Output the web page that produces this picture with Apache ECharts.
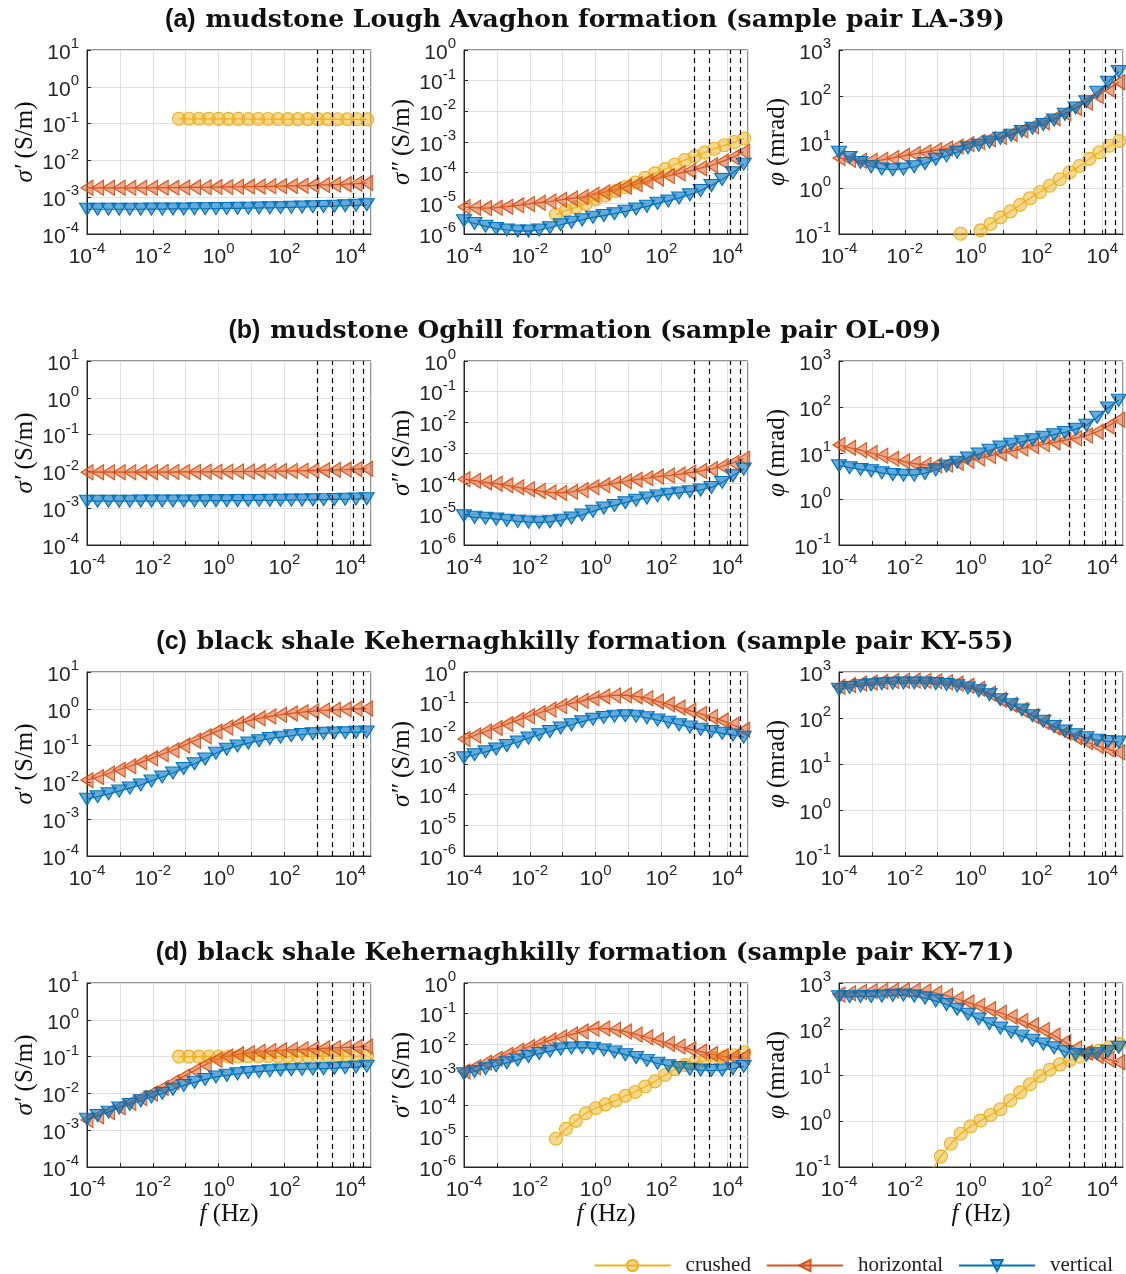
<!DOCTYPE html>
<html>
<head>
<meta charset="utf-8">
<script src="https://cdn.jsdelivr.net/npm/echarts@6/dist/echarts.min.js"></script>
<style>
  html, body { margin: 0; padding: 0; background: #fff; }
  #chart { width: 1126px; height: 1274px; }
</style>
</head>
<body>
<div id="chart"></div>
<script>
// measurement frequencies (Hz)
const freq = [1e-4, 2.1e-4, 4.5e-4, 9.5e-4, 2.0e-3, 4.3e-3, 9.1e-3, 0.0193, 0.041, 0.087, 0.185, 0.39, 0.83,
  1.77, 3.75, 8.0, 17, 36, 76, 162, 343, 730, 1550, 3300, 7000, 14900, 31600];
const freqCrushed = [0.0625, 0.125, 0.25, 0.5, 1, 2, 4, 8, 16, 32, 64, 128, 256, 512, 1024, 2048, 4096, 8192, 16384, 32768];
const dashedFreq = [1000, 2800, 12000, 25000];

// (a) LA-39
const laReCru = [0.135, 0.135, 0.135, 0.135, 0.134, 0.134, 0.134, 0.133, 0.133, 0.133, 0.133, 0.132, 0.132, 0.132, 0.132, 0.132, 0.131, 0.131, 0.131, 0.13];
const laReHor = [1.8e-3, 1.8e-3, 1.8e-3, 1.8e-3, 1.8e-3, 1.8e-3, 1.8e-3, 1.82e-3, 1.82e-3, 1.84e-3, 1.85e-3, 1.86e-3, 1.88e-3, 1.9e-3,
  1.92e-3, 1.94e-3, 1.96e-3, 1.98e-3, 2.0e-3, 2.03e-3, 2.06e-3, 2.1e-3, 2.15e-3, 2.2e-3, 2.26e-3, 2.33e-3, 2.42e-3];
const laReVer = [4.7e-4, 4.7e-4, 4.7e-4, 4.7e-4, 4.7e-4, 4.7e-4, 4.75e-4, 4.75e-4, 4.8e-4, 4.8e-4, 4.85e-4, 4.85e-4, 4.9e-4, 4.95e-4,
  5.0e-4, 5.05e-4, 5.1e-4, 5.15e-4, 5.2e-4, 5.3e-4, 5.4e-4, 5.5e-4, 5.6e-4, 5.7e-4, 5.85e-4, 6.0e-4, 6.2e-4];
const laImCru = [4.3e-6, 5.9e-6, 7.4e-6, 9.6e-6, 1.35e-5, 1.8e-5, 2.5e-5, 3.4e-5, 4.8e-5, 6.8e-5, 9.5e-5, 1.3e-4, 1.85e-4, 2.6e-4,
  3.4e-4, 4.5e-4, 6e-4, 7.8e-4, 1.0e-3, 1.3e-3];
const laImHor = [7.6e-6, 7.2e-6, 7.0e-6, 7.2e-6, 7.8e-6, 8.6e-6, 9.5e-6, 1.05e-5, 1.15e-5, 1.3e-5, 1.45e-5, 1.6e-5, 1.9e-5, 2.3e-5,
  2.8e-5, 3.5e-5, 4.2e-5, 5.2e-5, 6.5e-5, 7.8e-5, 9.5e-5, 1.15e-4, 1.4e-4, 1.75e-4, 2.3e-4, 3.2e-4, 4.8e-4];
const laImVer = [2.7e-6, 2.2e-6, 1.8e-6, 1.5e-6, 1.35e-6, 1.25e-6, 1.25e-6, 1.35e-6, 1.6e-6, 2.0e-6, 2.4e-6, 2.9e-6, 3.5e-6, 4.0e-6,
  4.6e-6, 5.5e-6, 6.5e-6, 8e-6, 1.0e-5, 1.2e-5, 1.5e-5, 1.9e-5, 2.6e-5, 3.8e-5, 6e-5, 1.0e-4, 1.9e-4];
const laPhCru = [0.035, 0.05, 0.07, 0.101, null, 0.12, 0.165, 0.23, 0.31, 0.43, 0.6, 0.82, 1.12, 1.55, 2.2, 3.0, 4.3, 6.0, 8.3, 10.5];
const laPhHor = [4.5, 4.1, 3.9, 3.9, 4.1, 4.5, 5.0, 5.5, 6.0, 6.6, 7.2, 8.0, 9.0, 10, 11.5, 13, 15, 18, 22, 27, 33, 42, 55, 72, 100, 140, 200];
const laPhVer = [6.0, 4.6, 3.6, 2.9, 2.6, 2.5, 2.6, 2.9, 3.4, 4.2, 5.0, 6.0, 7.5, 8.5, 10, 12, 14, 17, 20, 24, 30, 40, 55, 75, 120, 200, 340];

// (b) OL-09
const olReHor = [9.5e-3, 9.5e-3, 9.5e-3, 9.5e-3, 9.5e-3, 9.55e-3, 9.55e-3, 9.6e-3, 9.6e-3, 9.65e-3, 9.7e-3, 9.75e-3, 9.8e-3, 9.85e-3,
  9.9e-3, 9.95e-3, 1.0e-2, 1.01e-2, 1.02e-2, 1.03e-2, 1.04e-2, 1.06e-2, 1.08e-2, 1.1e-2, 1.12e-2, 1.15e-2, 1.18e-2];
const olReVer = [1.55e-3, 1.55e-3, 1.55e-3, 1.55e-3, 1.55e-3, 1.56e-3, 1.56e-3, 1.57e-3, 1.57e-3, 1.58e-3, 1.58e-3, 1.59e-3, 1.6e-3,
  1.6e-3, 1.61e-3, 1.62e-3, 1.63e-3, 1.64e-3, 1.65e-3, 1.66e-3, 1.67e-3, 1.69e-3, 1.71e-3, 1.73e-3, 1.75e-3, 1.78e-3, 1.8e-3];
const olImHor = [1.4e-4, 1.25e-4, 1.1e-4, 1.0e-4, 8.8e-5, 7.6e-5, 6.6e-5, 5.8e-5, 5.2e-5, 5.0e-5, 5.4e-5, 6.2e-5, 7.6e-5, 8.8e-5,
  1.02e-4, 1.2e-4, 1.35e-4, 1.5e-4, 1.7e-4, 1.85e-4, 2.0e-4, 2.3e-4, 2.6e-4, 3.0e-4, 3.7e-4, 4.8e-4, 6.5e-4];
const olImVer = [9e-6, 8e-6, 7.5e-6, 7e-6, 6.4e-6, 5.9e-6, 5.6e-6, 5.5e-6, 5.7e-6, 6.4e-6, 7.6e-6, 9.5e-6, 1.25e-5, 1.6e-5,
  1.95e-5, 2.4e-5, 2.9e-5, 3.4e-5, 4.0e-5, 4.5e-5, 5.0e-5, 5.5e-5, 6.2e-5, 7.5e-5, 1.1e-4, 1.8e-4, 3.0e-4];
const olPhHor = [15, 13, 11.5, 10, 8.7, 7.5, 6.6, 5.9, 5.5, 5.4, 5.6, 6.1, 6.8, 7.6, 8.6, 9.8, 11, 12.5, 14, 15.5, 17, 19, 21, 24, 29, 38, 53];
const olPhVer = [5.3, 4.8, 4.4, 4.1, 3.7, 3.4, 3.3, 3.3, 3.6, 4.3, 5.2, 6.3, 7.8, 9.5, 11.5, 13.5, 15.5, 17.5, 19.5, 22, 25, 28, 33, 40, 60, 95, 140];

// (c) KY-55
const kyaReHor = [1.15e-2, 1.4e-2, 1.75e-2, 2.2e-2, 2.75e-2, 3.5e-2, 4.5e-2, 5.8e-2, 7.5e-2, 0.1, 0.135, 0.18, 0.24, 0.31, 0.39,
  0.47, 0.55, 0.62, 0.69, 0.75, 0.81, 0.86, 0.9, 0.94, 0.97, 1.0, 1.02];
const kyaReVer = [3.5e-3, 4.1e-3, 4.9e-3, 5.8e-3, 7e-3, 8.5e-3, 1.1e-2, 1.4e-2, 1.8e-2, 2.4e-2, 3.2e-2, 4.3e-2, 6.2e-2, 8e-2,
  9.8e-2, 0.117, 0.135, 0.155, 0.17, 0.185, 0.2, 0.21, 0.215, 0.22, 0.225, 0.23, 0.235];
const kyaImHor = [6.5e-3, 8.5e-3, 1.15e-2, 1.5e-2, 2.0e-2, 2.7e-2, 3.6e-2, 4.6e-2, 6.0e-2, 7.8e-2, 9.5e-2, 0.115, 0.14, 0.16, 0.172,
  0.175, 0.16, 0.14, 0.11, 0.088, 0.07, 0.055, 0.043, 0.034, 0.026, 0.019, 0.013];
const kyaImVer = [1.6e-3, 2e-3, 2.5e-3, 3.1e-3, 4e-3, 5.2e-3, 7e-3, 9e-3, 1.15e-2, 1.5e-2, 1.9e-2, 2.4e-2, 2.9e-2, 3.3e-2, 3.6e-2,
  3.75e-2, 3.6e-2, 3.2e-2, 2.7e-2, 2.3e-2, 1.9e-2, 1.6e-2, 1.35e-2, 1.15e-2, 1.0e-2, 8.8e-3, 7.5e-3];
const kyaPhHor = [480, 520, 560, 590, 615, 635, 645, 650, 645, 630, 600, 560, 500, 430, 340, 250, 195, 150, 110, 82, 62, 48, 38, 30, 25, 21, 18];
const kyaPhVer = [420, 460, 500, 530, 555, 570, 580, 580, 575, 560, 535, 500, 450, 390, 320, 250, 195, 150, 112, 85, 65, 52, 43, 37, 33, 31, 30];

// (d) KY-71
const kybReCru = [0.1, 0.1, 0.1, 0.101, 0.101, 0.101, 0.101, 0.102, 0.102, 0.102, 0.102, 0.102, 0.102, 0.102, 0.103, 0.103, 0.103, 0.103, 0.103, 0.104];
const kybReHor = [1.9e-3, 2.4e-3, 3.1e-3, 4.2e-3, 5.6e-3, 7.5e-3, 1.0e-2, 1.4e-2, 2.0e-2, 2.9e-2, 4.2e-2, 6e-2, 8.2e-2, 0.1, 0.115,
  0.125, 0.135, 0.142, 0.148, 0.153, 0.158, 0.163, 0.168, 0.172, 0.177, 0.182, 0.188];
const kybReVer = [2.0e-3, 2.5e-3, 3.1e-3, 4.0e-3, 5.0e-3, 6.3e-3, 8.0e-3, 1.0e-2, 1.3e-2, 1.65e-2, 2.0e-2, 2.4e-2, 2.8e-2, 3.1e-2,
  3.4e-2, 3.7e-2, 3.9e-2, 4.1e-2, 4.3e-2, 4.4e-2, 4.5e-2, 4.6e-2, 4.7e-2, 4.8e-2, 5.0e-2, 5.2e-2, 5.5e-2];
const kybImCru = [8.3e-6, 1.75e-5, 3.2e-5, 5.6e-5, 8.2e-5, 1.1e-4, 1.45e-4, 2.1e-4, 2.8e-4, 4.2e-4, 6.2e-4, 1.0e-3, 1.55e-3, 2.1e-3,
  2.6e-3, 2.9e-3, 3.5e-3, 3.9e-3, 4.4e-3, 5.4e-3];
const kybImHor = [1.3e-3, 1.8e-3, 2.5e-3, 3.4e-3, 4.6e-3, 6.2e-3, 8.2e-3, 1.05e-2, 1.35e-2, 1.7e-2, 2.1e-2, 2.6e-2, 3.2e-2, 3.3e-2,
  3.0e-2, 2.6e-2, 2.1e-2, 1.7e-2, 1.35e-2, 1.05e-2, 8.5e-3, 7e-3, 5.8e-3, 4.8e-3, 4.1e-3, 3.8e-3, 3.9e-3];
const kybImVer = [1.1e-3, 1.3e-3, 1.6e-3, 2.0e-3, 2.5e-3, 3.1e-3, 4.0e-3, 5.0e-3, 6.0e-3, 7.0e-3, 7.6e-3, 7.8e-3, 7.4e-3, 6.6e-3,
  5.6e-3, 4.6e-3, 3.7e-3, 3.0e-3, 2.4e-3, 2.0e-3, 1.75e-3, 1.55e-3, 1.45e-3, 1.4e-3, 1.45e-3, 1.6e-3, 1.9e-3];
const kybPhCru = [0.08, 0.17, 0.32, 0.53, 0.77, 1.02, 1.35, 1.8, 2.8, 4.2, 6.3, 9.5, 13, 17, 21, 25, 30, 34, 40, 47];
const kybPhHor = [560, 600, 640, 660, 680, 690, 700, 690, 660, 600, 530, 450, 380, 320, 270, 225, 185, 150, 120, 95, 72, 52, 38, 31, 26, 22, 19];
const kybPhVer = [500, 505, 510, 510, 520, 540, 550, 520, 470, 410, 340, 270, 210, 165, 130, 105, 85, 70, 57, 47, 39, 32, 28, 27, 29, 33, 40];

const titles = [
  ['(a)', 'mudstone Lough Avaghon formation (sample pair LA-39)'],
  ['(b)', 'mudstone Oghill formation (sample pair OL-09)'],
  ['(c)', 'black shale Kehernaghkilly formation (sample pair KY-55)'],
  ['(d)', 'black shale Kehernaghkilly formation (sample pair KY-71)']
];
// per row: [sigma', sigma'', phase], each [crushed, horizontal, vertical]
const panels = [
  [[laReCru, laReHor, laReVer], [laImCru, laImHor, laImVer], [laPhCru, laPhHor, laPhVer]],
  [[null, olReHor, olReVer], [null, olImHor, olImVer], [null, olPhHor, olPhVer]],
  [[null, kyaReHor, kyaReVer], [null, kyaImHor, kyaImVer], [null, kyaPhHor, kyaPhVer]],
  [[kybReCru, kybReHor, kybReVer], [kybImCru, kybImHor, kybImVer], [kybPhCru, kybPhHor, kybPhVer]]
];
const yNames = ['{i|σ′} (S/m)', '{i|σ″} (S/m)', '{i|φ} (mrad)'];
const yMin = [1e-4, 1e-6, 1e-1];
const yMax = [10, 1, 1000];

const colLeft = [87, 464, 839];
const rowTop = [50, 361, 672, 983];
const plotW = 284, plotH = 184;
const axisCol = '#262626';
const serif = 'Liberation Serif';
const sans = 'Liberation Sans';

const looks = [
  { name: 'crushed', symbol: 'circle', size: 13, rotate: 0, line: '#EDB120', fill: 'rgba(237,177,32,0.5)' },
  { name: 'horizontal', symbol: 'triangle', size: [15, 12], rotate: 90, line: '#D95319', fill: 'rgba(217,83,25,0.5)' },
  { name: 'vertical', symbol: 'triangle', size: [15, 12], rotate: 180, line: '#0072BD', fill: 'rgba(0,114,189,0.6)' }
];

function powLabel(v, evenOnly) {
  const e = Math.log10(v);
  const r = Math.round(e);
  if (Math.abs(e - r) > 1e-6) return '';
  if (evenOnly && r % 2 !== 0) return '';
  return '{b|10}{s|' + r + '}';
}
const powRich = {
  b: { fontFamily: sans, fontSize: 21, color: axisCol, verticalAlign: 'bottom', lineHeight: 27 },
  s: { fontFamily: sans, fontSize: 15, color: axisCol, verticalAlign: 'top', lineHeight: 16 }
};
const nameStyle = {
  fontFamily: serif, fontSize: 25, color: '#111',
  rich: { i: { fontFamily: serif, fontStyle: 'italic', fontSize: 25, color: '#111' } }
};

const grid = [], xAxis = [], yAxis = [], series = [], title = [];

titles.forEach(function (t, r) {
  title.push({
    text: '{p|' + t[0] + '}  {b|' + t[1] + '}',
    left: 580, top: rowTop[r] - 47, textAlign: 'center',
    textStyle: {
      rich: {
        p: { fontFamily: sans, fontSize: 25, color: '#111' },
        b: { fontFamily: 'DejaVu Serif', fontWeight: 'bold', fontSize: 25, color: '#111' }
      }
    }
  });
});

for (let r = 0; r < 4; r++) {
  for (let c = 0; c < 3; c++) {
    const idx = grid.length;
    grid.push({
      left: colLeft[c], top: rowTop[r], width: plotW, height: plotH,
      show: true, borderColor: axisCol, borderWidth: 1, backgroundColor: '#fff'
    });
    xAxis.push({
      type: 'log', logBase: 10, gridIndex: idx, min: 1e-4, max: 42700,
      name: r === 3 ? '{i|f} (Hz)' : '', nameLocation: 'middle', nameGap: 35,
      nameTextStyle: nameStyle,
      axisLine: { show: true, lineStyle: { color: axisCol, width: 1 } },
      axisTick: { show: true, inside: true, length: 4, lineStyle: { color: axisCol } },
      axisLabel: { margin: 7, formatter: function (v) { return powLabel(v, true); }, rich: powRich, showMaxLabel: false },
      splitLine: { show: true, lineStyle: { color: '#e0e0e0', width: 1 } }
    });
    yAxis.push({
      type: 'log', logBase: 10, gridIndex: idx, min: yMin[c], max: yMax[c],
      name: yNames[c], nameLocation: 'middle', nameGap: 47, nameRotate: 90,
      nameTextStyle: nameStyle,
      axisLine: { show: true, lineStyle: { color: axisCol, width: 1 } },
      axisTick: { show: true, inside: true, length: 4, lineStyle: { color: axisCol } },
      axisLabel: { margin: 8, formatter: function (v) { return powLabel(v, false); }, rich: powRich },
      splitLine: { show: true, lineStyle: { color: '#e0e0e0', width: 1 } }
    });
    panels[r][c].forEach(function (vals, s) {
      if (!vals) return;
      const lk = looks[s];
      const xs = s === 0 ? freqCrushed : freq;
      const item = {
        name: lk.name, type: 'line', xAxisIndex: idx, yAxisIndex: idx,
        data: xs.map(function (f, i) { return [f, vals[i] == null ? '-' : vals[i]]; }),
        symbol: lk.symbol, symbolSize: lk.size, symbolRotate: lk.rotate,
        showAllSymbol: true, clip: s === 0, animation: false,
        lineStyle: { color: lk.line, width: 1.2 },
        itemStyle: { color: lk.fill, borderColor: lk.line, borderWidth: 1.1 },
        emphasis: { disabled: true }
      };
      if (s === 1) {
        item.markLine = {
          silent: true, symbol: ['none', 'none'], label: { show: false }, animation: false,
          lineStyle: { type: [5, 4], color: '#000', width: 1.2 },
          data: dashedFreq.map(function (f) { return { xAxis: f }; })
        };
      }
      series.push(item);
    });
  }
}

const chart = echarts.init(document.getElementById('chart'));
chart.setOption({
  backgroundColor: '#fff',
  animation: false,
  title: title,
  legend: {
    data: looks.map(function (l) { return l.name; }),
    right: 8, top: 1250, itemWidth: 76, itemHeight: 14, itemGap: 15,
    textStyle: { fontFamily: serif, fontSize: 21, color: '#222', padding: [0, 0, 0, 10] }
  },
  grid: grid,
  xAxis: xAxis,
  yAxis: yAxis,
  series: series
});
</script>
</body>
</html>
